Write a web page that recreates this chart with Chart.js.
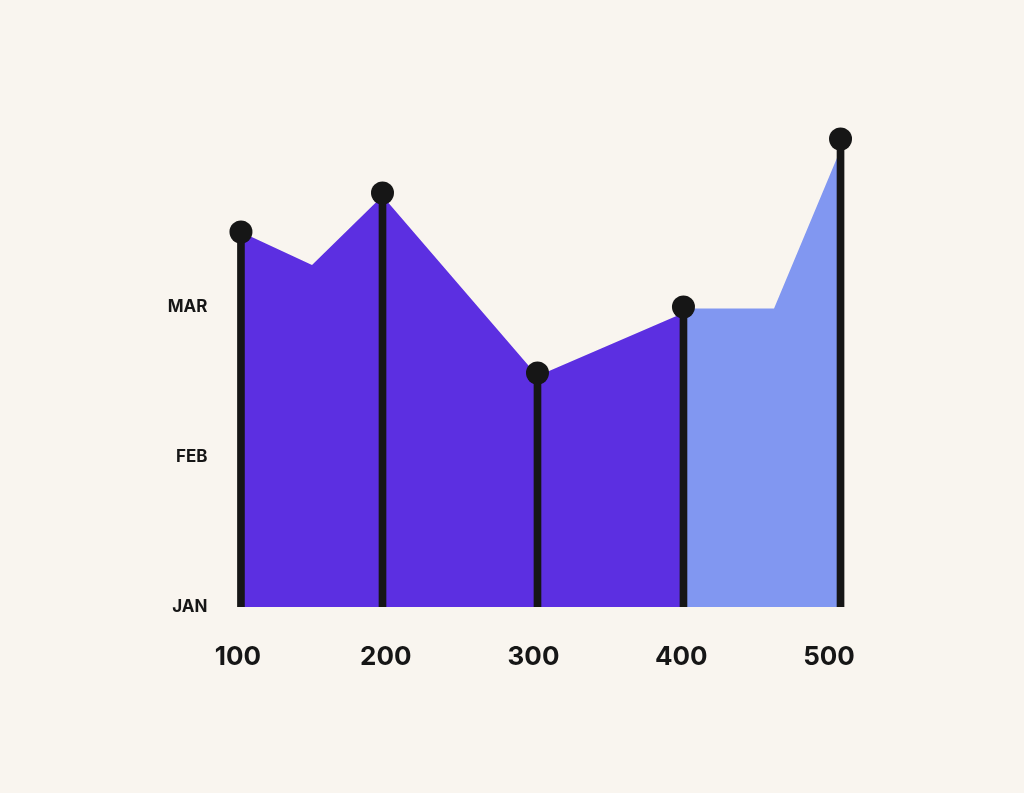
<!DOCTYPE html>
<html>
<head>
<meta charset="utf-8">
<script src="https://cdn.jsdelivr.net/npm/chart.js@4/dist/chart.umd.min.js"></script>
<style>
  html, body { margin: 0; padding: 0; background: #f9f5ef; }
  #wrap { width: 1024px; height: 793px; position: relative; }
</style>
</head>
<body>
<div id="wrap"><canvas id="chart"></canvas></div>
<script>
// tick labels
const xTicks = [100, 200, 300, 400, 500];
const yLabels = ['JAN', 'FEB', 'MAR'];

// dark purple area (100 -> 400)
const purpleX = [102, 150.1, 197.8, 302.7, 401.5];
const purpleY = [2.50, 2.28, 2.74, 1.54, 1.96];

// light blue area (400 -> 500)
const blueX = [401.5, 462.8, 507.8];
const blueY = [1.99, 1.99, 3.05];

// stems with dots on top
const stemX = [102, 197.8, 302.7, 401.5, 507.8];
const stemY = [2.50, 2.76, 1.56, 2.00, 3.12];

const toPoints = (xs, ys) => xs.map((x, i) => ({ x: x, y: ys[i] }));

const ink = '#161616';

new Chart(document.getElementById('chart').getContext('2d'), {
    type: 'line',
    data: {
        datasets: [
            {
                type: 'line',
                data: toPoints(stemX, stemY),
                showLine: false,
                pointRadius: 11.5,
                pointBackgroundColor: ink,
                pointBorderWidth: 0,
                order: 0
            },
            {
                type: 'bar',
                data: toPoints(stemX, stemY),
                backgroundColor: ink,
                barThickness: 7,
                order: 1
            },
            {
                type: 'line',
                data: toPoints(purpleX, purpleY),
                fill: 'origin',
                backgroundColor: '#5c2fe1',
                borderWidth: 0,
                pointRadius: 0,
                tension: 0,
                order: 3
            },
            {
                type: 'line',
                data: toPoints(blueX, blueY),
                fill: 'origin',
                backgroundColor: '#8197f1',
                borderWidth: 0,
                pointRadius: 0,
                tension: 0,
                order: 2
            }
        ]
    },
    options: {
        responsive: true,
        maintainAspectRatio: false,
        animation: false,
        layout: {
            padding: { top: 82, right: 165.45, left: 0, bottom: 0 }
        },
        plugins: {
            legend: { display: false },
            tooltip: { enabled: false }
        },
        scales: {
            x: {
                type: 'linear',
                min: 80,
                max: 520,
                offset: false,
                border: { display: false },
                grid: { display: false, drawTicks: false },
                afterBuildTicks: scale => {
                    scale.ticks = xTicks.map(v => ({ value: v }));
                },
                afterFit: scale => { scale.height = 186; },
                ticks: {
                    padding: 35,
                    color: ink,
                    font: { family: 'Inter', size: 26, weight: 700 },
                    callback: v => String(v)
                }
            },
            y: {
                type: 'linear',
                min: 0,
                max: 3.5,
                border: { display: false },
                grid: { display: false, drawTicks: false },
                afterBuildTicks: scale => {
                    scale.ticks = yLabels.map((l, i) => ({ value: i }));
                },
                afterFit: scale => { scale.width = 208.45; },
                ticks: {
                    padding: 1,
                    color: ink,
                    font: { family: 'Inter', size: 17, weight: 700 },
                    callback: v => yLabels[v] || ''
                }
            }
        }
    }
});
</script>
</body>
</html>
